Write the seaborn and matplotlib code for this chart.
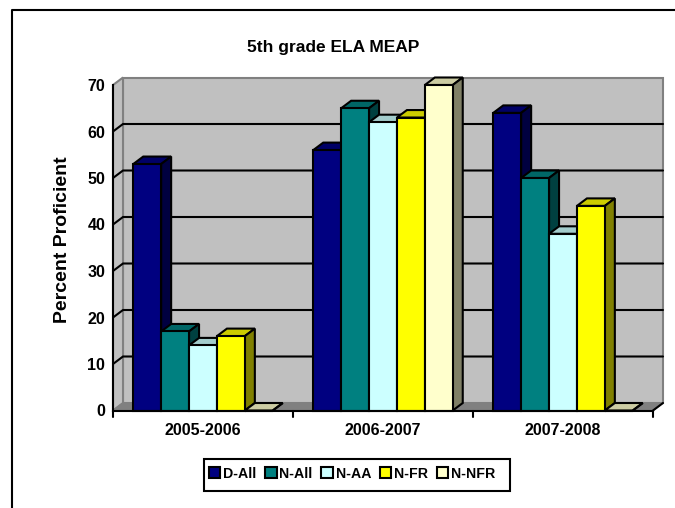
import matplotlib
matplotlib.use("Agg")
import matplotlib.pyplot as plt
import matplotlib.colors as mcolors
from matplotlib.patches import Polygon, Rectangle
from matplotlib.lines import Line2D
import pandas as pd
import seaborn as sns

years = ["2005-2006", "2006-2007", "2007-2008"]
series = ["D-All", "N-All", "N-AA", "N-FR", "N-NFR"]
d_all = [53, 56, 64]
n_all = [17, 65, 50]
n_aa = [14, 62, 38]
n_fr = [16, 63, 44]
n_nfr = [0, 70, 0]
colors = ["#000080", "#008080", "#CCFFFF", "#FFFF00", "#FFFFCC"]
yticks = [0, 10, 20, 30, 40, 50, 60, 70]

W, H = 675, 508
FONT = "Liberation Sans"
DX, DY = 10, 7.5  # depth of the fake 3-D projection, in pixels
LW = 1.5

df = pd.DataFrame({"year": years * 5,
                   "series": [s for s in series for _ in years],
                   "value": d_all + n_all + n_aa + n_fr + n_nfr})

sns.set_style("white")
plt.rcParams["font.family"] = [FONT, "DejaVu Sans"]
fig = plt.figure(figsize=(W / 100, H / 100), dpi=100, facecolor="white")

L, R, T, B = 113, 653, 85, 410.5
ax = fig.add_axes([L / W, 1 - B / H, (R - L) / W, (B - T) / H])
ax.patch.set_alpha(0)
sns.barplot(data=df, x="year", y="value", hue="series", order=years, hue_order=series,
            palette=colors, width=0.775, gap=0, saturation=1, ax=ax, legend=False,
            edgecolor="black", linewidth=LW, zorder=5)
ax.set_xlim(-0.5, 2.5)
ax.set_ylim(0, 70)
ax.set_xlabel("")
ax.set_ylabel("Percent Proficient", fontsize=14, fontweight="bold", color="black")
ax.yaxis.set_label_coords((71 - L) / (R - L), (B - 240) / (B - T))
ax.set_yticks(yticks)
ax.tick_params(axis="x", length=0, pad=9, labelsize=11.5)
ax.tick_params(axis="y", length=5, width=LW, color="black", pad=0.5, labelsize=11.5)
for t in ax.get_xticklabels() + ax.get_yticklabels():
    t.set_fontweight("bold")
    t.set_color("black")
for s in ("top", "right"):
    ax.spines[s].set_visible(False)
for s in ("left", "bottom"):
    ax.spines[s].set_linewidth(LW)
    ax.spines[s].set_color("black")
    ax.spines[s].set_zorder(8)

# data-per-pixel helpers: everything below derives from the axes' own scales
px = 3 / (R - L)
py = 70 / (B - T)
dx, dy = DX * px, DY * py
x0, x1 = -0.5, 2.5


def shade(color, f):
    return tuple(c * f for c in mcolors.to_rgb(color))


# back wall, side wall, floor
ax.add_patch(Rectangle((x0 + dx, dy), x1 - x0, 70, fc="#C0C0C0", ec="#808080", lw=LW,
                       zorder=1, clip_on=False))
ax.add_patch(Polygon([(x0, 0), (x0 + dx, dy), (x0 + dx, 70 + dy), (x0, 70)], closed=True,
                     fc="#C0C0C0", ec="#808080", lw=LW, zorder=1, clip_on=False))
ax.add_patch(Polygon([(x0, 0), (x1, 0), (x1 + dx, dy), (x0 + dx, dy)], closed=True,
                     fc="#808080", ec="#808080", lw=1, zorder=1, clip_on=False))

# gridlines on the walls
for v in yticks[1:-1]:
    ax.add_line(Line2D([x0, x0 + dx, x1 + dx], [v, v + dy, v + dy], color="black", lw=LW,
                       zorder=2, clip_on=False, solid_joinstyle="miter"))

# category ticks with their slant onto the floor
for v in [-0.5, 0.5, 1.5, 2.5]:
    ax.add_line(Line2D([v, v], [0, -6 * py], color="black", lw=LW, zorder=8, clip_on=False))
ax.add_line(Line2D([x1, x1 + dx], [0, dy], color="black", lw=LW, zorder=3, clip_on=False))

# bar tops and sides, from the patches seaborn drew
bars = sorted([p for p in ax.patches if isinstance(p, Rectangle) and p.get_zorder() == 5],
              key=lambda p: p.get_x())
for p in bars:
    xa, w, h = p.get_x(), p.get_width(), p.get_height()
    xb = xa + w
    col = p.get_facecolor()
    ax.add_patch(Polygon([(xa, h), (xb, h), (xb + dx, h + dy), (xa + dx, h + dy)], closed=True,
                         fc=shade(col, 0.8), ec="black", lw=LW, zorder=5.5 + xa / 10,
                         clip_on=False, joinstyle="miter"))
    ax.add_patch(Polygon([(xb, 0), (xb + dx, dy), (xb + dx, h + dy), (xb, h)], closed=True,
                         fc=shade(col, 0.5), ec="black", lw=LW, zorder=5.5 + xa / 10,
                         clip_on=False, joinstyle="miter"))
    p.set_zorder(6 + xa / 10)
    p.set_clip_on(False)

# legend box (wider on the right than the entries need, as in the original)
fig.add_artist(Rectangle((204 / W, 1 - 491 / H), 306 / W, 32 / H, transform=fig.transFigure,
                         fc="white", ec="black", lw=LW, zorder=9))
handles = [Rectangle((0, 0), 1, 1, fc=c, ec="black", lw=LW) for c in colors]
leg = fig.legend(handles, series, loc="center left", ncol=5, frameon=False,
                 bbox_to_anchor=(209 / W, 1 - 473.5 / H),
                 prop={"family": FONT, "weight": "bold", "size": 10.2},
                 labelcolor="black",
                 handlelength=0.8, handleheight=0.8, handletextpad=0.2, columnspacing=0.62,
                 borderpad=0, borderaxespad=0)
leg.set_zorder(10)

# title
fig.text(333 / W, 1 - 47.5 / H, "5th grade ELA MEAP", ha="center", va="center",
         fontsize=12.5, fontweight="bold", color="black")

# outer frame (top and left edges)
fig.add_artist(Line2D([11.5 / W, 11.5 / W, 1], [0, 1 - 9.5 / H, 1 - 9.5 / H], color="black", lw=LW))

fig.savefig("out.png", dpi=100)
